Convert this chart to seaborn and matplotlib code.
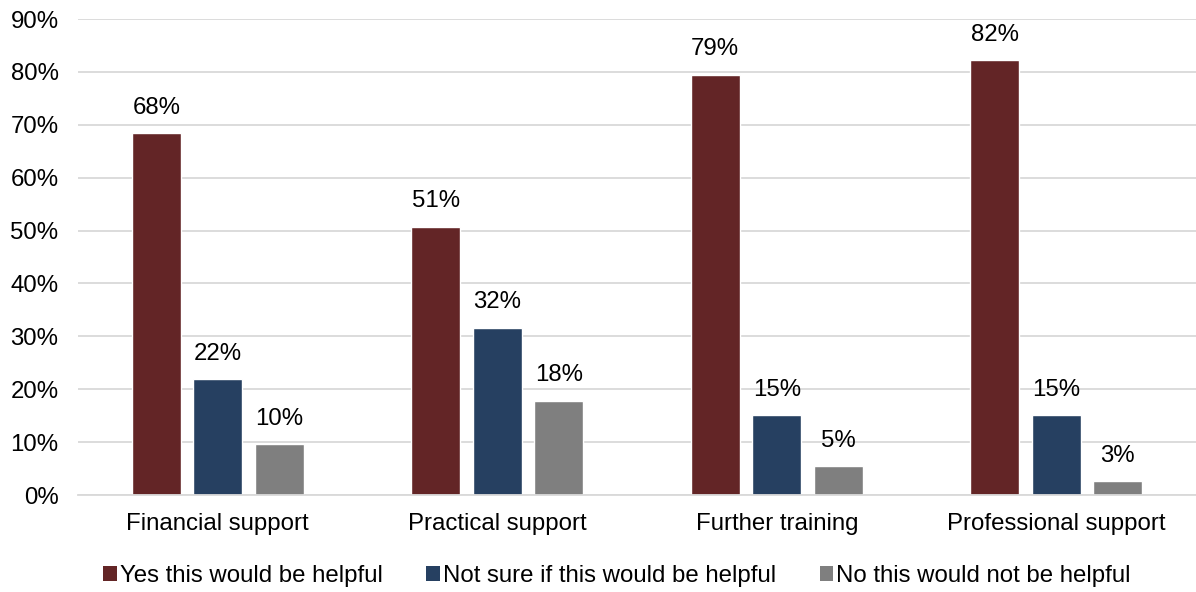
import matplotlib
matplotlib.use("Agg")
import matplotlib.pyplot as plt
import seaborn as sns
import pandas as pd
from matplotlib.patches import Patch

categories = ["Financial support", "Practical support", "Further training", "Professional support"]
series = ["Yes this would be helpful", "Not sure if this would be helpful", "No this would not be helpful"]
yes_vals = [68.4, 50.7, 79.4, 82.2]
notsure_vals = [21.9, 31.6, 15.1, 15.1]
no_vals = [9.6, 17.8, 5.4, 2.6]
colors = ["#632526", "#264061", "#7F7F7F"]

rows = []
for s, vals in zip(series, [yes_vals, notsure_vals, no_vals]):
    for c, v in zip(categories, vals):
        rows.append({"category": c, "series": s, "value": v})
df = pd.DataFrame(rows)

sns.set_theme(style="white")
plt.rcParams["font.family"] = ["Liberation Sans", "DejaVu Sans"]

FS = 17.3
fig = plt.figure(figsize=(11.96, 5.92), dpi=100)
ax = fig.add_axes([78 / 1196, 1 - 495 / 592, 1 - 78 / 1196, (495 - 19) / 592])

sns.barplot(data=df, x="category", y="value", hue="series", order=categories,
            hue_order=series, palette=colors, width=0.66, gap=0.21,
            saturation=1, ax=ax, legend=False, errorbar=None)

for cont in ax.containers:
    vals = [b.get_height() for b in cont]
    ax.bar_label(cont, labels=[f"{v:.0f}%" for v in vals], padding=10.5, fontsize=FS, color="#000000")

ax.set_ylim(0, 90)
ax.set_xlim(-0.5, 3.5)
ax.set_yticks(range(0, 91, 10))
ax.set_yticklabels([f"{t}%" for t in range(0, 91, 10)], fontsize=FS, color="#000000")
ax.tick_params(axis="x", labelsize=FS, colors="#000000", length=0, pad=13)
ax.tick_params(axis="y", length=0, pad=14)
ax.set_xlabel("")
ax.set_ylabel("")
ax.yaxis.grid(True, color="#D9D9D9", linewidth=1.3)
ax.set_axisbelow(True)
for sp in ["left", "right", "top"]:
    ax.spines[sp].set_visible(False)
ax.spines["bottom"].set_color("#D9D9D9")
ax.spines["bottom"].set_linewidth(1.3)

handles = [Patch(facecolor=c, edgecolor="none") for c in colors]
fig.legend(handles, series, loc="center", bbox_to_anchor=(0.516, 1 - 576 / 592), ncol=3,
           frameon=False, fontsize=FS, handlelength=0.55, handleheight=0.55,
           handletextpad=0.15, columnspacing=1.8, labelcolor="#000000")

fig.savefig("out.png", dpi=100)
